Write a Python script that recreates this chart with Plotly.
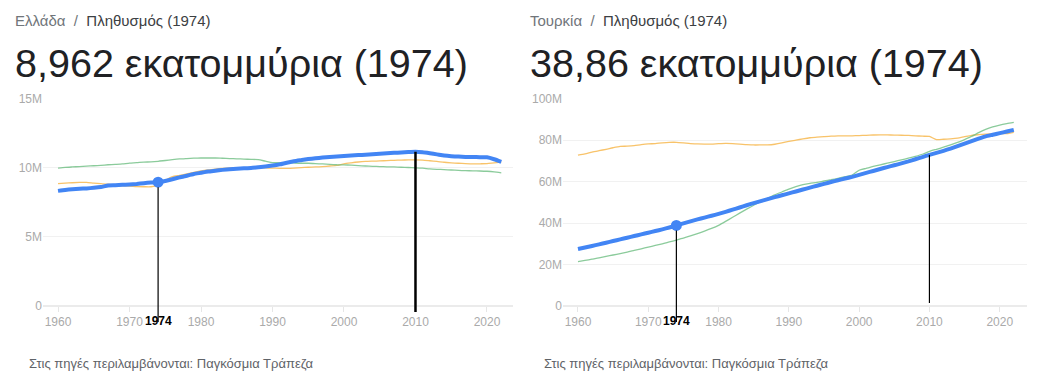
import plotly.graph_objects as go

years = list(range(1960, 2023))

greece = [8.33, 8.40, 8.45, 8.48, 8.51, 8.55, 8.61, 8.72, 8.74, 8.77,
          8.79, 8.83, 8.89, 8.93, 8.962, 9.05, 9.17, 9.31, 9.43, 9.55,
          9.64, 9.73, 9.79, 9.85, 9.90, 9.93, 9.96, 9.99, 10.04, 10.09,
          10.16, 10.25, 10.37, 10.47, 10.55, 10.63, 10.69, 10.74, 10.78, 10.81,
          10.85, 10.89, 10.92, 10.95, 10.98, 11.02, 11.05, 11.08, 11.11, 11.14,
          11.16, 11.12, 11.05, 10.97, 10.89, 10.84, 10.81, 10.79, 10.78, 10.77,
          10.76, 10.62, 10.43]
portugal = [8.86, 8.89, 8.92, 8.94, 8.94, 8.89, 8.85, 8.81, 8.75, 8.70,
            8.68, 8.64, 8.63, 8.63, 8.75, 9.09, 9.36, 9.45, 9.56, 9.66,
            9.77, 9.85, 9.91, 9.96, 10.0, 10.01, 10.01, 10.0, 10.0, 9.99,
            9.98, 9.96, 9.96, 9.98, 10.01, 10.04, 10.06, 10.09, 10.13, 10.17,
            10.29, 10.36, 10.42, 10.46, 10.48, 10.50, 10.52, 10.54, 10.56, 10.57,
            10.57, 10.56, 10.51, 10.46, 10.40, 10.36, 10.33, 10.30, 10.28, 10.29,
            10.30, 10.36, 10.41]
hungary = [9.98, 10.03, 10.06, 10.09, 10.12, 10.15, 10.18, 10.22, 10.25, 10.28,
           10.34, 10.37, 10.41, 10.43, 10.47, 10.53, 10.59, 10.64, 10.67, 10.70,
           10.71, 10.71, 10.71, 10.69, 10.67, 10.65, 10.63, 10.61, 10.59, 10.48,
           10.37, 10.37, 10.37, 10.35, 10.33, 10.33, 10.30, 10.28, 10.25, 10.22,
           10.21, 10.19, 10.16, 10.13, 10.11, 10.09, 10.07, 10.06, 10.04, 10.02,
           10.00, 9.97, 9.92, 9.89, 9.87, 9.84, 9.81, 9.79, 9.78, 9.77,
           9.75, 9.71, 9.64]

turkey = [27.47, 28.22, 28.97, 29.74, 30.53, 31.33, 32.13, 32.94, 33.74, 34.55,
          35.36, 36.17, 36.98, 37.88, 38.86, 39.84, 40.82, 41.76, 42.65, 43.53,
          44.44, 45.42, 46.46, 47.52, 48.59, 49.62, 50.61, 51.56, 52.49, 53.40,
          54.32, 55.25, 56.19, 57.11, 58.03, 58.92, 59.79, 60.65, 61.49, 62.31,
          63.24, 64.19, 65.14, 66.09, 67.01, 67.90, 68.80, 69.75, 70.80, 71.85,
          72.90, 73.85, 74.85, 75.95, 77.15, 78.35, 79.55, 80.75, 81.85, 82.60,
          83.38, 84.15, 84.98]
germany = [72.81, 73.38, 74.24, 74.93, 75.59, 76.34, 76.96, 77.11, 77.38, 77.83,
           78.17, 78.35, 78.72, 78.95, 78.97, 78.67, 78.30, 78.16, 78.08, 78.11,
           78.29, 78.41, 78.33, 78.13, 77.86, 77.68, 77.69, 77.72, 78.03, 78.64,
           79.43, 80.01, 80.62, 81.16, 81.42, 81.68, 81.91, 82.03, 82.05, 82.10,
           82.21, 82.35, 82.49, 82.53, 82.52, 82.47, 82.38, 82.27, 82.11, 81.90,
           81.78, 80.27, 80.43, 80.65, 80.98, 81.69, 82.35, 82.66, 82.91, 83.09,
           83.16, 83.20, 83.80]
iran = [21.4, 22.0, 22.6, 23.2, 23.9, 24.6, 25.3, 26.0, 26.8, 27.6,
        28.4, 29.2, 30.0, 30.9, 31.8, 32.8, 33.8, 34.9, 36.1, 37.4,
        38.9, 40.8, 42.8, 44.8, 46.7, 48.6, 50.4, 52.0, 53.6, 55.0,
        56.4, 57.6, 58.6, 59.2, 59.6, 60.3, 60.9, 61.6, 62.4, 63.2,
        65.5, 66.4, 67.3, 68.1, 68.9, 69.7, 70.5, 71.3, 72.2, 73.2,
        74.6, 75.6, 76.6, 77.7, 78.9, 80.3, 81.8, 83.6, 85.2, 86.4,
        87.3, 88.0, 88.6]

left_yticks = [0, 5, 10, 15]
left_ylabels = ["0", "5M", "10M", "15M"]
right_yticks = [0, 20, 40, 60, 80, 100]
right_ylabels = ["0", "20M", "40M", "60M", "80M", "100M"]
xticks = [1960, 1970, 1980, 1990, 2000, 2010, 2020]
sel_year = 1974
cursor_year = 2010

BLUE = "#4285f4"
ORANGE = "rgba(247,185,80,0.85)"
GREEN = "rgba(110,190,130,0.8)"
FONT = "Arial, 'Liberation Sans', sans-serif"

W, H = 1040, 380
OFF = 8  # page body margin: figure starts at page (8, 8)

def py(page_y):
    return 1 - (page_y - OFF) / H

def pxx(page_x):
    return (page_x - OFF) / W

Y_DOM = [py(306), py(98.7)]
L_DOM = [pxx(43), pxx(513)]
R_DOM = [pxx(563), pxx(1027)]
L_MAX, R_MAX = 15, 100

fig = go.Figure()

def add_lines(main, others, xa, ya):
    for vals, col in others:
        fig.add_trace(go.Scatter(x=years, y=vals, mode="lines", xaxis=xa, yaxis=ya,
                                 line=dict(color=col, width=1.3, shape="spline", smoothing=0.6),
                                 hoverinfo="skip", showlegend=False))
    fig.add_trace(go.Scatter(x=years, y=main, mode="lines", xaxis=xa, yaxis=ya,
                             line=dict(color=BLUE, width=4, shape="spline", smoothing=0.5),
                             hoverinfo="skip", showlegend=False))
    i = years.index(sel_year)
    fig.add_trace(go.Scatter(x=[sel_year], y=[main[i]], mode="markers", xaxis=xa, yaxis=ya,
                             marker=dict(color=BLUE, size=11), cliponaxis=False,
                             hoverinfo="skip", showlegend=False))

add_lines(greece, [(portugal, ORANGE), (hungary, GREEN)], "x", "y")
add_lines(turkey, [(germany, ORANGE), (iran, GREEN)], "x2", "y2")

def to_paper(v, vmax):
    return Y_DOM[0] + v / vmax * (Y_DOM[1] - Y_DOM[0])

gi = years.index(sel_year)
ci = years.index(cursor_year)
shapes = [
    dict(type="line", xref="x", yref="paper", x0=sel_year, x1=sel_year,
         y0=py(322), y1=to_paper(greece[gi], L_MAX) - 5 / H,
         line=dict(color="black", width=1.2)),
    dict(type="line", xref="x", yref="paper", x0=cursor_year, x1=cursor_year,
         y0=py(312), y1=to_paper(greece[ci], L_MAX),
         line=dict(color="black", width=2.5)),
    dict(type="line", xref="x2", yref="paper", x0=sel_year, x1=sel_year,
         y0=py(322), y1=to_paper(turkey[gi], R_MAX) - 5 / H,
         line=dict(color="black", width=1.2)),
    dict(type="line", xref="x2", yref="paper", x0=cursor_year, x1=cursor_year,
         y0=py(303), y1=to_paper(turkey[ci], R_MAX),
         line=dict(color="black", width=1.2)),
]

axis_common = dict(showgrid=False, zeroline=False, showline=False, tickvals=xticks,
                   ticks="outside", ticklen=5, tickcolor="#e6e6e6", automargin=False,
                   tickfont=dict(size=12, color="#aaaaaa", family=FONT), fixedrange=True)
yaxis_common = dict(showgrid=True, gridcolor="#f1f1f1", gridwidth=1, zeroline=True,
                    zerolinecolor="#ebebeb", zerolinewidth=2, showline=False, ticks="",
                    automargin=False,
                    tickfont=dict(size=12, color="#aaaaaa", family=FONT), fixedrange=True)

fig.update_layout(
    width=W, height=H, margin=dict(l=0, r=0, t=0, b=0, pad=0, autoexpand=False),
    paper_bgcolor="white", plot_bgcolor="white", showlegend=False,
    font=dict(family=FONT),
    xaxis=dict(domain=L_DOM, range=[1957.9, 2023.64], anchor="y", **axis_common),
    yaxis=dict(domain=Y_DOM, range=[0, L_MAX], anchor="x", tickvals=left_yticks,
               ticktext=left_ylabels, **yaxis_common),
    xaxis2=dict(domain=R_DOM, range=[1957.87, 2023.88], anchor="y2", **axis_common),
    yaxis2=dict(domain=Y_DOM, range=[0, R_MAX], anchor="x2", tickvals=right_yticks,
                ticktext=right_ylabels, **yaxis_common),
    shapes=shapes,
)

def ann(xfig, page_y, text, size, color="#202124"):
    fig.add_annotation(x=xfig / W, y=py(page_y), xref="paper", yref="paper", text=text,
                       showarrow=False, xanchor="left", yanchor="middle",
                       font=dict(size=size, color=color, family=FONT))

panels = [(0, "Ελλάδα", "8,962", "x"), (515, "Τουρκία", "38,86", "x2")]
for dx, country, value, xr in panels:
    ann(5 + dx, 21,
        f"<span style='color:#70757a'>{country}</span>"
        f"<span style='color:#70757a'>&nbsp; /&nbsp; </span>"
        f"<span style='color:#3c4043'>Πληθυσμός (1974)</span>", 15)
    ann(5 + dx, 63, f"{value} εκατομμύρια (1974)", 39.5)
    ann(19 + dx, 363, "Στις πηγές περιλαμβάνονται: Παγκόσμια Τράπεζα", 13, color="#5f6368")
    fig.add_annotation(x=sel_year, y=py(321), xref=xr, yref="paper", text="<b>1974</b>",
                       showarrow=False, xanchor="center", yanchor="middle",
                       font=dict(size=12, color="black", family=FONT))

fig.write_html("out.html")
